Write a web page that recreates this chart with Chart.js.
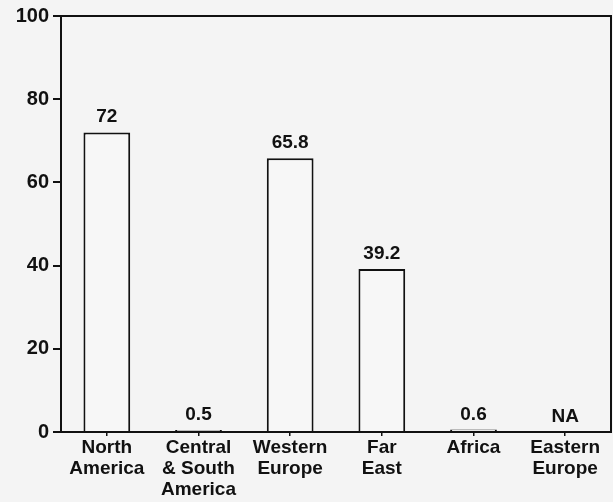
<!DOCTYPE html>
<html>
<head>
<meta charset="utf-8">
<script src="https://cdn.jsdelivr.net/npm/chart.js@4"></script>
<style>
  html, body { margin: 0; padding: 0; background: #f4f4f4; }
  #wrap { width: 613px; height: 502px; }
</style>
</head>
<body>
<div id="wrap"><canvas id="chart" width="613" height="502"></canvas></div>
<script>
/* =========================
   DATA
========================= */
const regions = [
  ["North", "America"],
  ["Central", "& South", "America"],
  ["Western", "Europe"],
  ["Far", "East"],
  ["Africa"],
  ["Eastern", "Europe"]
];
const shares = [72, 0.5, 65.8, 39.2, 0.6, null];
const shareLabels = ["72", "0.5", "65.8", "39.2", "0.6", "NA"];
const yTicks = [0, 20, 40, 60, 80, 100];

const FONT = "'Liberation Sans', Arial, Helvetica, sans-serif";
const INK = "#111";

/* =========================
   PLUGINS
========================= */
// box around plot area
const frame = {
  id: "frame",
  afterDatasetsDraw(chart) {
    const a = chart.chartArea;
    const ctx = chart.ctx;
    ctx.save();
    ctx.strokeStyle = INK;
    ctx.lineWidth = 2;
    ctx.strokeRect(a.left, a.top, a.right - a.left, a.bottom - a.top);
    ctx.restore();
  }
};

// numbers above bars (NA for missing)
const barValues = {
  id: "barValues",
  afterDatasetsDraw(chart) {
    const ctx = chart.ctx;
    const meta = chart.getDatasetMeta(0);
    const y = chart.scales.y;
    ctx.save();
    ctx.font = "bold 19px " + FONT;
    ctx.fillStyle = INK;
    ctx.textAlign = "center";
    ctx.textBaseline = "alphabetic";
    meta.data.forEach((bar, i) => {
      const v = shares[i] == null ? 0 : shares[i];
      ctx.fillText(shareLabels[i], bar.x, y.getPixelForValue(v) - 10);
    });
    ctx.restore();
  }
};

/* =========================
   CHART
========================= */
new Chart(document.getElementById("chart").getContext("2d"), {
  type: "bar",
  data: {
    labels: regions,
    datasets: [{
      data: shares,
      backgroundColor: "#f7f7f7",
      borderColor: INK,
      borderWidth: 2,
      categoryPercentage: 1,
      barPercentage: 0.51
    }]
  },
  options: {
    responsive: false,
    animation: false,
    layout: { padding: { top: 15, right: 2, left: 0, bottom: 0 } },
    plugins: {
      legend: { display: false },
      tooltip: { enabled: false }
    },
    scales: {
      x: {
        grid: { display: true, drawOnChartArea: false, offset: false, tickLength: 4, color: INK, lineWidth: 1.5 },
        border: { display: false },
        ticks: { color: INK, font: { family: FONT, size: 19, weight: "bold", lineHeight: 1.08 }, padding: 2, maxRotation: 0, autoSkip: false },
        afterFit(s) { s.height = 70; }
      },
      y: {
        min: 0,
        max: 100,
        grid: { display: true, drawOnChartArea: false, tickLength: 8, color: INK, lineWidth: 2 },
        border: { display: false },
        afterBuildTicks(s) { s.ticks = yTicks.map(v => ({ value: v })); },
        ticks: { color: INK, font: { family: FONT, size: 20, weight: "bold" }, padding: 4 },
        afterFit(s) { s.width = 61; }
      }
    }
  },
  plugins: [frame, barValues]
});
</script>
</body>
</html>
